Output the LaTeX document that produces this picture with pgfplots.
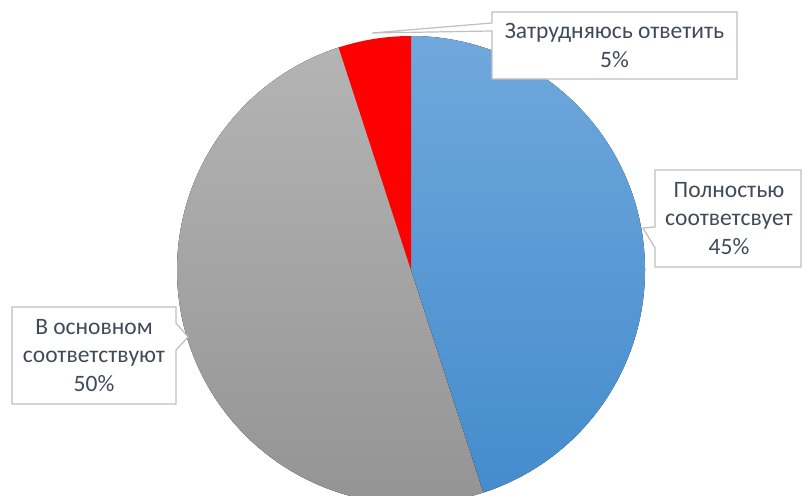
\documentclass[border=0pt]{standalone}
\usepackage{fontspec}
\setmainfont{Carlito}
\usepackage{pgfplots}
\usepackage{pgfplotstable}
\pgfplotsset{compat=1.18}

\definecolor{blueTop}{HTML}{6FA8DC}
\definecolor{blueBot}{HTML}{448CCD}
\definecolor{grayTop}{HTML}{B4B4B4}
\definecolor{grayBot}{HTML}{929292}
\definecolor{redSl}{HTML}{FF0000}
\definecolor{boxLine}{HTML}{BFBFBF}
\definecolor{txt}{HTML}{404A58}

% shares in percent, clockwise from the top
\pgfplotstableread{
name value
full 45
mostly 50
unsure 5
}\piedata

\begin{document}
\begin{tikzpicture}
\pgfplotstablegetelem{0}{value}\of\piedata \let\vA\pgfplotsretval
\pgfplotstablegetelem{1}{value}\of\piedata \let\vB\pgfplotsretval
\pgfplotstablegetelem{2}{value}\of\piedata \let\vC\pgfplotsretval
\pgfmathsetmacro\aA{90}
\pgfmathsetmacro\aB{\aA-3.6*\vA}
\pgfmathsetmacro\aC{\aB-3.6*\vB}
\pgfmathsetmacro\aD{\aC-3.6*\vC}
\def\cx{411}\def\cy{225}\def\R{234}
\begin{axis}[
  x=1pt, y=1pt,
  xmin=0, xmax=802, ymin=0, ymax=495,
  scale only axis,
  hide axis,
]
\coordinate (bl) at (axis cs:0,0);
\coordinate (tr) at (axis cs:802,495);
\fill[top color=blueTop, bottom color=blueBot]
  (axis cs:\cx,\cy) -- (axis cs:{\cx+\R*cos(\aA)},{\cy+\R*sin(\aA)})
  arc[start angle=\aA, end angle=\aB, radius=\R pt] -- cycle;
\fill[top color=grayTop, bottom color=grayBot]
  (axis cs:\cx,\cy) -- (axis cs:{\cx+\R*cos(\aB)},{\cy+\R*sin(\aB)})
  arc[start angle=\aB, end angle=\aC, radius=\R pt] -- cycle;
\fill[redSl]
  (axis cs:\cx,\cy) -- (axis cs:{\cx+\R*cos(\aC)},{\cy+\R*sin(\aC)})
  arc[start angle=\aC, end angle=\aD, radius=\R pt] -- cycle;

% callouts (image y turned upside down: 495 - y)
\filldraw[fill=white, draw=boxLine, line width=1.2pt]
  (axis cs:492,483) -- (axis cs:737,483) -- (axis cs:737,416) -- (axis cs:492,416)
  -- (axis cs:492,464) -- (axis cs:372,462) -- (axis cs:492,472) -- cycle;
\filldraw[fill=white, draw=boxLine, line width=1.2pt]
  (axis cs:655,325) -- (axis cs:801,325) -- (axis cs:801,228) -- (axis cs:655,228)
  -- (axis cs:655,247) -- (axis cs:643,267) -- (axis cs:655,268) -- cycle;
\filldraw[fill=white, draw=boxLine, line width=1.2pt]
  (axis cs:12,188) -- (axis cs:176,188) -- (axis cs:176,172) -- (axis cs:188,158)
  -- (axis cs:176,145) -- (axis cs:176,91) -- (axis cs:12,91) -- cycle;

\node[align=center, text=txt, font=\fontsize{23.5}{28.5}\selectfont]
  at (axis cs:614.5,449.5) {Затрудняюсь ответить\\\vC\%};
\node[align=center, text=txt, font=\fontsize{23.5}{28.5}\selectfont]
  at (axis cs:729,276.5) {Полностью\\соответсвует\\\vA\%};
\node[align=center, text=txt, font=\fontsize{23.5}{28.5}\selectfont]
  at (axis cs:94,139.5) {В основном\\соответствуют\\\vB\%};
\end{axis}
\pgfresetboundingbox
\useasboundingbox (bl) rectangle (tr);
\end{tikzpicture}
\end{document}
